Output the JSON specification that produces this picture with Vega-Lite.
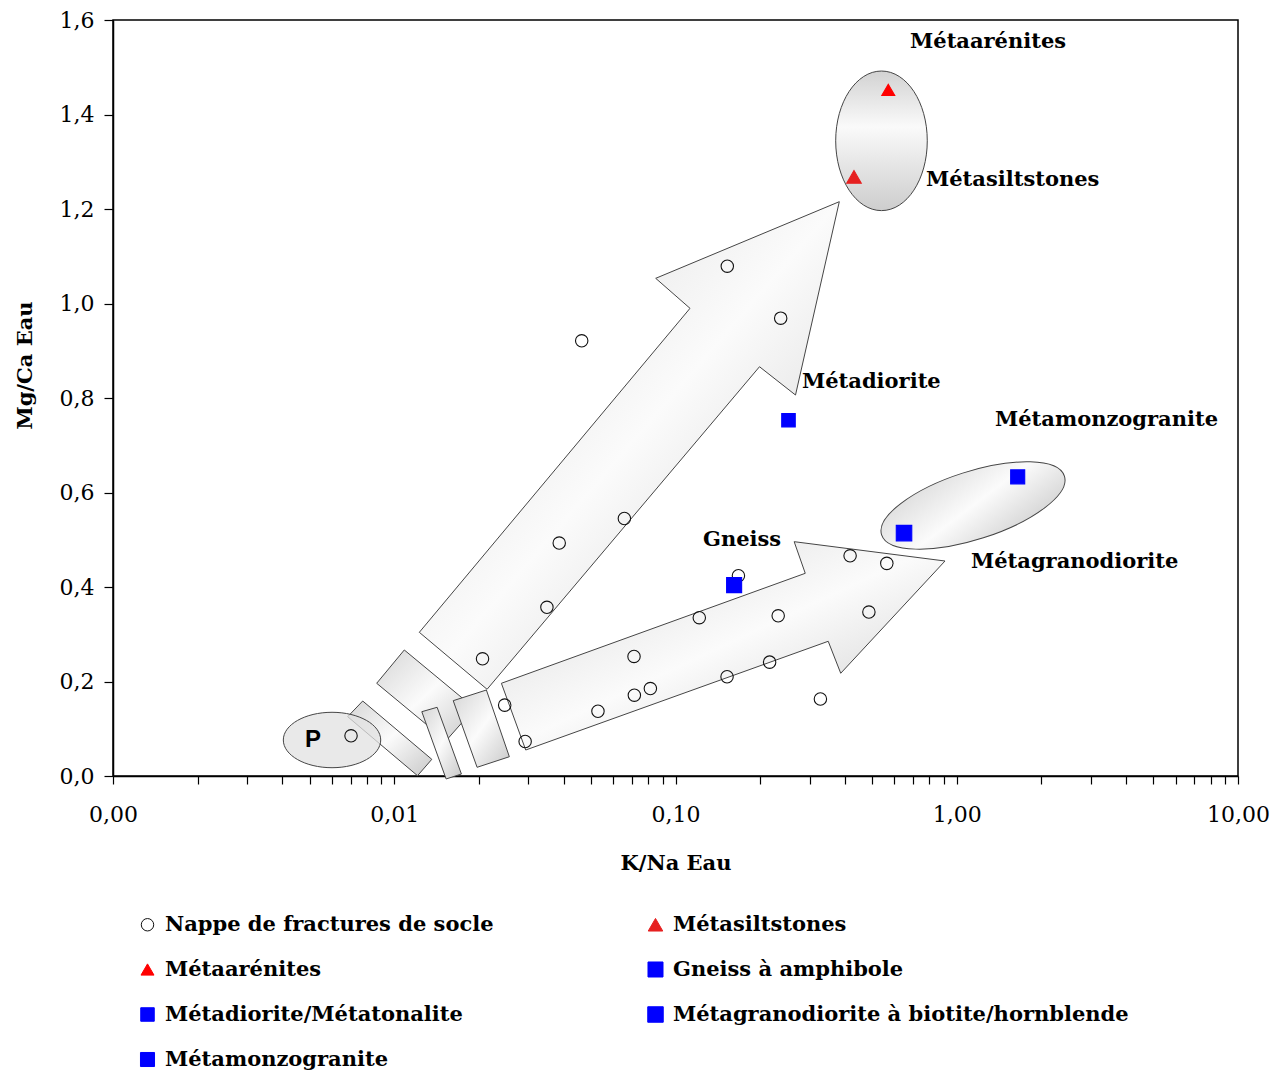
{
  "$schema": "https://vega.github.io/schema/vega-lite/v6.json",
  "autosize": {"type": "none"},
  "padding": {"left": 113, "top": 20, "right": 47, "bottom": 295},
  "width": 1125,
  "height": 756,
  "background": "white",
  "config": {
    "view": {"stroke": "black", "strokeWidth": 1.5},
    "font": "DejaVu Serif",
    "axis": {"domainColor": "black", "domainWidth": 1.5, "tickColor": "black", "tickWidth": 1.2, "labelColor": "black", "titleColor": "black", "grid": false, "labelFont": "DejaVu Serif", "titleFont": "DejaVu Serif"}
  },
  "datasets": {
    "points": [
      {"type": "Nappe de fractures de socle", "x": 0.00702, "y": 0.085},
      {"type": "Nappe de fractures de socle", "x": 0.0206, "y": 0.248},
      {"type": "Nappe de fractures de socle", "x": 0.0247, "y": 0.150},
      {"type": "Nappe de fractures de socle", "x": 0.0292, "y": 0.073},
      {"type": "Nappe de fractures de socle", "x": 0.0349, "y": 0.357},
      {"type": "Nappe de fractures de socle", "x": 0.0386, "y": 0.493},
      {"type": "Nappe de fractures de socle", "x": 0.0464, "y": 0.921},
      {"type": "Nappe de fractures de socle", "x": 0.0530, "y": 0.137},
      {"type": "Nappe de fractures de socle", "x": 0.0658, "y": 0.545},
      {"type": "Nappe de fractures de socle", "x": 0.0712, "y": 0.253},
      {"type": "Nappe de fractures de socle", "x": 0.0714, "y": 0.171},
      {"type": "Nappe de fractures de socle", "x": 0.0814, "y": 0.185},
      {"type": "Nappe de fractures de socle", "x": 0.1215, "y": 0.335},
      {"type": "Nappe de fractures de socle", "x": 0.1528, "y": 1.079},
      {"type": "Nappe de fractures de socle", "x": 0.1525, "y": 0.210},
      {"type": "Nappe de fractures de socle", "x": 0.1674, "y": 0.424},
      {"type": "Nappe de fractures de socle", "x": 0.2161, "y": 0.241},
      {"type": "Nappe de fractures de socle", "x": 0.2318, "y": 0.339},
      {"type": "Nappe de fractures de socle", "x": 0.2366, "y": 0.969},
      {"type": "Nappe de fractures de socle", "x": 0.3275, "y": 0.163},
      {"type": "Nappe de fractures de socle", "x": 0.4176, "y": 0.466},
      {"type": "Nappe de fractures de socle", "x": 0.4871, "y": 0.347},
      {"type": "Nappe de fractures de socle", "x": 0.5640, "y": 0.450},
      {"type": "Métaarénites", "x": 0.5709, "y": 1.452},
      {"type": "Métasiltstones", "x": 0.4312, "y": 1.268},
      {"type": "Métadiorite/Métatonalite", "x": 0.2522, "y": 0.753},
      {"type": "Gneiss à amphibole", "x": 0.1616, "y": 0.404},
      {"type": "Métagranodiorite à biotite/hornblende", "x": 0.6494, "y": 0.514},
      {"type": "Métamonzogranite", "x": 1.647, "y": 0.633}
    ],
    "shapes": [
      {"s": "1", "i": 1, "x": 0.007724, "y": 0.1587},
      {"s": "1", "i": 2, "x": 0.01360, "y": 0.0353},
      {"s": "1", "i": 3, "x": 0.012099, "y": 0.0006},
      {"s": "1", "i": 4, "x": 0.006831, "y": 0.1255},
      {"s": "2", "i": 1, "x": 0.010857, "y": 0.2667},
      {"s": "2", "i": 2, "x": 0.01931, "y": 0.1433},
      {"s": "2", "i": 3, "x": 0.01528, "y": 0.0747},
      {"s": "2", "i": 4, "x": 0.008661, "y": 0.1962},
      {"s": "3", "i": 1, "x": 0.012531, "y": 0.1361},
      {"s": "3", "i": 2, "x": 0.014205, "y": 0.1454},
      {"s": "3", "i": 3, "x": 0.017331, "y": 0.0042},
      {"s": "3", "i": 4, "x": 0.015293, "y": -0.0063},
      {"s": "4", "i": 1, "x": 0.016207, "y": 0.1594},
      {"s": "4", "i": 2, "x": 0.02126, "y": 0.1820},
      {"s": "4", "i": 3, "x": 0.025659, "y": 0.0408},
      {"s": "4", "i": 4, "x": 0.019704, "y": 0.0184},
      {"s": "5", "i": 1, "x": 0.012278, "y": 0.3041},
      {"s": "5", "i": 2, "x": 0.11261, "y": 0.9898},
      {"s": "5", "i": 3, "x": 0.08504, "y": 1.0533},
      {"s": "5", "i": 4, "x": 0.3823, "y": 1.2155},
      {"s": "5", "i": 5, "x": 0.2671, "y": 0.8063},
      {"s": "5", "i": 6, "x": 0.1989, "y": 0.8662},
      {"s": "5", "i": 7, "x": 0.02138, "y": 0.1835},
      {"s": "6", "i": 1, "x": 0.02404, "y": 0.1962},
      {"s": "6", "i": 2, "x": 0.2893, "y": 0.4290},
      {"s": "6", "i": 3, "x": 0.2642, "y": 0.4959},
      {"s": "6", "i": 4, "x": 0.9083, "y": 0.4550},
      {"s": "6", "i": 5, "x": 0.3868, "y": 0.2174},
      {"s": "6", "i": 6, "x": 0.3491, "y": 0.2851},
      {"s": "6", "i": 7, "x": 0.02934, "y": 0.0550}
    ],
    "labels": [
      {"label": "Métaarénites", "x": 0.6822, "y": 1.5534},
      {"label": "Métasiltstones", "x": 0.7774, "y": 1.2614},
      {"label": "Métadiorite", "x": 0.2817, "y": 0.8339},
      {"label": "Métamonzogranite", "x": 1.3677, "y": 0.7534},
      {"label": "Gneiss", "x": 0.1252, "y": 0.4995},
      {"label": "Métagranodiorite", "x": 1.1237, "y": 0.4529}
    ]
  },
  "layer": [
    {
      "data": {"name": "shapes"},
      "mark": {
        "type": "line",
        "interpolate": "linear-closed",
        "stroke": "#454545",
        "strokeWidth": 1,
        "fill": {"gradient": "linear", "x1": 0, "y1": 0, "x2": 1, "y2": 1, "stops": [{"offset": 0, "color": "#d6d6d6"}, {"offset": 0.5, "color": "#fbfbfb"}, {"offset": 1, "color": "#c9c9c9"}]}
      },
      "encoding": {
        "x": {
          "field": "x", "type": "quantitative",
          "scale": {"type": "log", "domain": [0.001, 10], "nice": false},
          "axis": {
            "title": "K/Na Eau",
            "values": [0.001, 0.002, 0.003, 0.004, 0.005, 0.006, 0.007, 0.008, 0.009, 0.01, 0.02, 0.03, 0.04, 0.05, 0.06, 0.07, 0.08, 0.09, 0.1, 0.2, 0.3, 0.4, 0.5, 0.6, 0.7, 0.8, 0.9, 1, 2, 3, 4, 5, 6, 7, 8, 9, 10],
            "labelExpr": "abs(log(datum.value)/LN10 - round(log(datum.value)/LN10)) < 1e-6 ? replace(format(datum.value, '.2f'), '.', ',') : ''",
            "tickSize": 8,
            "labelPadding": 20,
            "labelFontSize": 22,
            "labelFlush": false,
            "labelOverlap": false,
            "titleFontSize": 21,
            "titleFontWeight": "bold",
            "titlePadding": 27,
            "encode": {"ticks": {"update": {"y": {"signal": "abs(log(datum.value)/LN10 - round(log(datum.value)/LN10)) < 1e-6 && datum.value > 0.002 && datum.value < 5 ? -7 : 0"}}}}
          }
        },
        "y": {
          "field": "y", "type": "quantitative",
          "scale": {"domain": [0, 1.6], "nice": false, "zero": false},
          "axis": {
            "title": "Mg/Ca Eau",
            "values": [0, 0.2, 0.4, 0.6, 0.8, 1.0, 1.2, 1.4, 1.6],
            "labelExpr": "replace(format(datum.value, '.1f'), '.', ',')",
            "tickSize": 9,
            "labelPadding": 10,
            "labelFontSize": 22,
            "titleFontSize": 21,
            "titleFontWeight": "bold",
            "titleAngle": -90,
            "titleAlign": "center",
            "titleBaseline": "middle",
            "titleX": -88,
            "titleY": 345
          }
        },
        "detail": {"field": "s"},
        "order": {"field": "i", "type": "quantitative"}
      }
    },
    {
      "data": {"values": [{"x": 0.006008, "y": 0.0762}]},
      "mark": {"type": "point", "shape": "M-1,0A1,0.569 0 1,0 1,0A1,0.569 0 1,0 -1,0Z", "size": 9487, "filled": true, "opacity": 1, "fillOpacity": 0.75, "fill": "#e2e2e2", "stroke": "#454545", "strokeWidth": 1},
      "encoding": {"x": {"field": "x", "type": "quantitative"}, "y": {"field": "y", "type": "quantitative"}}
    },
    {
      "data": {"values": [{"x": 0.54, "y": 1.3443}]},
      "mark": {"type": "point", "shape": "M-0.656,0A0.656,1 0 1,0 0.656,0A0.656,1 0 1,0 -0.656,0Z", "size": 19488, "filled": true, "opacity": 1, "fill": {"gradient": "linear", "x1": 0, "y1": 0, "x2": 0, "y2": 1, "stops": [{"offset": 0, "color": "#d2d2d2"}, {"offset": 0.4, "color": "#fafafa"}, {"offset": 1, "color": "#cdcdcd"}]}, "stroke": "#454545", "strokeWidth": 1},
      "encoding": {"x": {"field": "x", "type": "quantitative"}, "y": {"field": "y", "type": "quantitative"}}
    },
    {
      "data": {"values": [{"x": 1.1424, "y": 0.5725}]},
      "mark": {"type": "point", "shape": "M-1,0A1,0.354 0 1,0 1,0A1,0.354 0 1,0 -1,0Z", "size": 36864, "angle": -17.8, "filled": true, "opacity": 1, "fill": {"gradient": "linear", "x1": 0, "y1": 0, "x2": 1, "y2": 1, "stops": [{"offset": 0, "color": "#d6d6d6"}, {"offset": 0.5, "color": "#fbfbfb"}, {"offset": 1, "color": "#cbcbcb"}]}, "stroke": "#454545", "strokeWidth": 1},
      "encoding": {"x": {"field": "x", "type": "quantitative"}, "y": {"field": "y", "type": "quantitative"}}
    },
    {
      "data": {"name": "points"},
      "mark": {"type": "point", "opacity": 1, "strokeWidth": 1.1},
      "encoding": {
        "x": {"field": "x", "type": "quantitative"},
        "y": {"field": "y", "type": "quantitative"},
        "shape": {
          "field": "type", "type": "nominal",
          "scale": {"domain": ["Nappe de fractures de socle", "Métaarénites", "Métadiorite/Métatonalite", "Métamonzogranite", "Métasiltstones", "Gneiss à amphibole", "Métagranodiorite à biotite/hornblende"], "range": ["circle", "triangle-up", "square", "square", "triangle-up", "square", "square"]},
          "legend": {"title": null, "orient": "none", "legendX": 24, "legendY": 894, "columns": 2, "columnPadding": 151, "rowPadding": 23, "padding": 0, "labelFont": "DejaVu Serif", "labelFontSize": 21, "labelFontWeight": "bold", "labelColor": "black", "labelOffset": 7, "labelLimit": 700, "symbolStrokeWidth": 1}
        },
        "fill": {
          "field": "type", "type": "nominal",
          "scale": {"domain": ["Nappe de fractures de socle", "Métaarénites", "Métadiorite/Métatonalite", "Métamonzogranite", "Métasiltstones", "Gneiss à amphibole", "Métagranodiorite à biotite/hornblende"], "range": ["transparent", "#ff0000", "#0000ff", "#0000ff", "#e62020", "#0000ff", "#0000ff"]},
          "legend": {"title": null, "orient": "none", "legendX": 24, "legendY": 894, "columns": 2, "columnPadding": 151, "rowPadding": 23, "padding": 0, "labelFont": "DejaVu Serif", "labelFontSize": 21, "labelFontWeight": "bold", "labelColor": "black", "labelOffset": 7, "labelLimit": 700, "symbolStrokeWidth": 1}
        },
        "stroke": {
          "field": "type", "type": "nominal",
          "scale": {"domain": ["Nappe de fractures de socle", "Métaarénites", "Métadiorite/Métatonalite", "Métamonzogranite", "Métasiltstones", "Gneiss à amphibole", "Métagranodiorite à biotite/hornblende"], "range": ["#111111", "#ff0000", "#0000ff", "#0000ff", "#e62020", "#0000ff", "#0000ff"]},
          "legend": {"title": null, "orient": "none", "legendX": 24, "legendY": 894, "columns": 2, "columnPadding": 151, "rowPadding": 23, "padding": 0, "labelFont": "DejaVu Serif", "labelFontSize": 21, "labelFontWeight": "bold", "labelColor": "black", "labelOffset": 7, "labelLimit": 700, "symbolStrokeWidth": 1}
        },
        "size": {
          "field": "type", "type": "nominal",
          "scale": {"domain": ["Nappe de fractures de socle", "Métaarénites", "Métadiorite/Métatonalite", "Métamonzogranite", "Métasiltstones", "Gneiss à amphibole", "Métagranodiorite à biotite/hornblende"], "range": [154, 240, 196, 196, 240, 196, 196]},
          "legend": {"title": null, "orient": "none", "legendX": 24, "legendY": 894, "columns": 2, "columnPadding": 151, "rowPadding": 23, "padding": 0, "labelFont": "DejaVu Serif", "labelFontSize": 21, "labelFontWeight": "bold", "labelColor": "black", "labelOffset": 7, "labelLimit": 700, "symbolStrokeWidth": 1}
        }
      }
    },
    {
      "data": {"name": "labels"},
      "mark": {"type": "text", "align": "left", "baseline": "middle", "font": "DejaVu Serif", "fontSize": 21, "fontWeight": "bold", "color": "black"},
      "encoding": {
        "x": {"field": "x", "type": "quantitative"},
        "y": {"field": "y", "type": "quantitative"},
        "text": {"field": "label"}
      }
    },
    {
      "data": {"values": [{"label": "P", "x": 0.004817, "y": 0.0762}]},
      "mark": {"type": "text", "align": "left", "baseline": "middle", "font": "Liberation Sans", "fontSize": 24, "fontWeight": "bold", "color": "black"},
      "encoding": {
        "x": {"field": "x", "type": "quantitative"},
        "y": {"field": "y", "type": "quantitative"},
        "text": {"field": "label"}
      }
    }
  ]
}
